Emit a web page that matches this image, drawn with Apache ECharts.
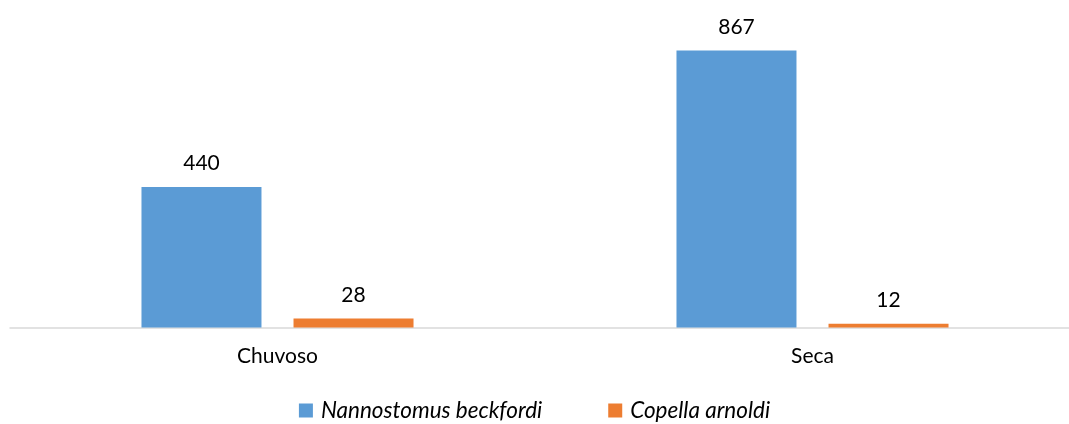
<!DOCTYPE html>
<html>
<head>
<meta charset="utf-8">
<script src="https://cdn.jsdelivr.net/npm/echarts@6/dist/echarts.min.js"></script>
<style>
  html, body { margin: 0; padding: 0; background: #fff; }
  #chart { width: 1069px; height: 424px; }
</style>
</head>
<body>
<div id="chart"></div>
<script>
const categories = ['Chuvoso', 'Seca'];
const nannostomus = [440, 867];
const copella = [28, 12];
const seriesNames = ['Nannostomus beckfordi', 'Copella arnoldi'];

let myChart = echarts.init(document.getElementById('chart'));
let labelStyle = {
  show: true,
  position: 'top',
  distance: 13,
  fontFamily: 'Lato',
  fontSize: 21,
  color: '#000'
};
let option = {
  animation: false,
  textStyle: { fontFamily: 'Lato' },
  grid: {
    left: 10,
    top: 8,
    width: 1070,
    height: 319.5,
    containLabel: false,
    outerBoundsMode: 'none'
  },
  legend: {
    bottom: -3,
    left: 'center',
    itemWidth: 14,
    itemHeight: 14,
    itemGap: 66,
    icon: 'rect',
    textStyle: {
      fontFamily: 'Lato',
      fontSize: 22.5,
      fontStyle: 'italic',
      color: '#000',
      padding: [0, 0, 0, 3]
    },
    data: seriesNames
  },
  xAxis: {
    type: 'category',
    data: categories,
    axisLine: { lineStyle: { color: '#D9D9D9', width: 1.5 } },
    axisTick: { show: false },
    axisLabel: { fontFamily: 'Lato', fontSize: 21, color: '#000', margin: 18 }
  },
  yAxis: {
    type: 'value',
    min: 0,
    max: 1000,
    show: false,
    splitLine: { show: false }
  },
  series: [
    {
      name: seriesNames[0],
      type: 'bar',
      data: nannostomus,
      barWidth: 120,
      barGap: '26.7%',
      itemStyle: { color: '#5B9BD5' },
      label: labelStyle
    },
    {
      name: seriesNames[1],
      type: 'bar',
      data: copella,
      barWidth: 120,
      itemStyle: { color: '#ED7D31' },
      label: labelStyle
    }
  ]
};
myChart.setOption(option);
</script>
</body>
</html>
